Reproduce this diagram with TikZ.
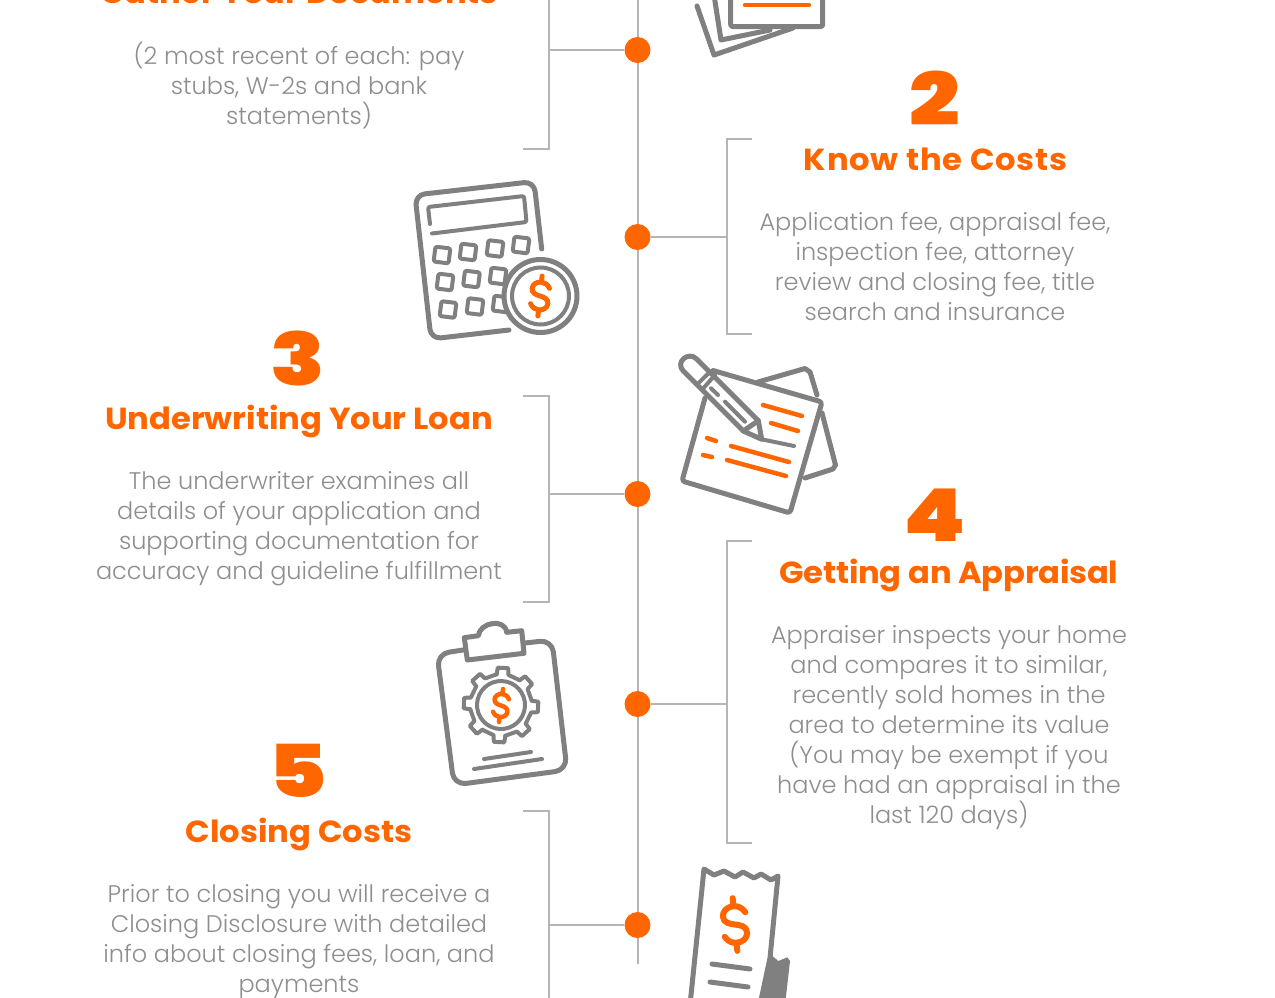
\documentclass[tikz,border=0pt]{standalone}
\usepackage{fontspec}
\setmainfont{Poppins Light}
\newfontfamily\headfont[FakeStretch=1.056]{Poppins Bold}
\newfontfamily\numfont[FakeStretch=1.22]{Poppins Black}
\definecolor{brandorange}{HTML}{FF6600}
\definecolor{iconGrey}{HTML}{808080}
\definecolor{ruleGrey}{HTML}{B5B5B5}
\definecolor{bodyGrey}{HTML}{8E8E8E}
\tikzset{
  stepdot/.style={circle,fill=brandorange,minimum size=26pt,inner sep=0pt},
  rule/.style={draw=ruleGrey,line width=2pt},
  bodytext/.style={anchor=base,align=center,text=bodyGrey,font=\fontsize{24}{30}\selectfont,inner sep=0pt},
  headtext/.style={anchor=base,text=brandorange,font=\headfont\fontsize{30.5}{36}\selectfont,inner sep=0pt},
  numtext/.style={anchor=base,text=brandorange,font=\numfont\fontsize{73}{80}\selectfont,inner sep=0pt},
  ico/.style={draw=iconGrey,line width=5pt,line cap=round,line join=round},
  icothin/.style={draw=iconGrey,line width=4pt,line cap=round,line join=round},
  icoacc/.style={draw=brandorange,line width=4.5pt,line cap=round,line join=round},
}
\newcommand\dollaricon[5]{%
  \begin{scope}[shift={(#1,#2)},rotate=#3,scale=#4]
    \draw[draw=brandorange,line width=#5pt,line cap=round,line join=round]
      (.42,-.42) .. controls (.32,-.60) and (.16,-.68) .. (0,-.68)
      .. controls (-.25,-.68) and (-.42,-.52) .. (-.42,-.33)
      .. controls (-.42,-.10) and (-.20,-.04) .. (0,0)
      .. controls (.20,.04) and (.42,.10) .. (.42,.33)
      .. controls (.42,.52) and (.25,.68) .. (0,.68)
      .. controls (-.16,.68) and (-.32,.60) .. (-.42,.42)
      (0,-.68) -- (0,-.98) (0,.68) -- (0,.98);
  \end{scope}}
\begin{document}
\begin{tikzpicture}[x=1pt,y=-1pt]
\useasboundingbox (0,0) rectangle (1275,997);
\clip (0,0) rectangle (1275,997);
\fill[white] (0,0) rectangle (1275,997);

% timeline
\coordinate (lineTop) at (637.5,-5);
\coordinate (lineEnd) at (637.5,964);
\draw[rule] (lineTop) -- (lineEnd);
\node[stepdot] (d1) at (637.5,50) {};
\node[stepdot] (d2) at (637.5,237) {};
\node[stepdot] (d3) at (637.5,494) {};
\node[stepdot] (d4) at (637.5,704) {};
\node[stepdot] (d5) at (637.5,925) {};

% brackets
\coordinate (b1) at (548.5,50);
\coordinate (b2) at (726.5,237);
\coordinate (b3) at (548.5,494);
\coordinate (b4) at (726.5,704);
\coordinate (b5) at (548.5,925);
\draw[rule] (d1) -- (b1);
\draw[rule] (d2) -- (b2);
\draw[rule] (d3) -- (b3);
\draw[rule] (d4) -- (b4);
\draw[rule] (d5) -- (b5);
\draw[rule] (548.5,-10) -- (548.5,149) -- (523,149);
\draw[rule] (752,139) -- (726.5,139) -- (726.5,334) -- (752,334);
\draw[rule] (523,396) -- (548.5,396) -- (548.5,602) -- (523,602);
\draw[rule] (752,541) -- (726.5,541) -- (726.5,843) -- (752,843);
\draw[rule] (523,811) -- (548.5,811) -- (548.5,1010);

% text
\node[headtext] (h1) at (299,3) {Gather Your Documents};
\node[bodytext] (t1) at (299,124) {(2 most recent of each: pay\\stubs, W-2s and bank\\statements)};
\node[numtext] (n2) at (935,125) {2};
\node[headtext] (h2) at (935.5,170) {\addfontfeature{LetterSpace=2.5}Know the Costs};
\node[bodytext] (t2) at (935,320) {Application fee, appraisal fee,\\inspection fee, attorney\\review and closing fee, title\\search and insurance};
\node[numtext] (n3) at (298,385) {3};
\node[headtext] (h3) at (299,429) {Underwriting Your Loan};
\node[bodytext] (t3) at (299,579) {The underwriter examines all\\details of your application and\\supporting documentation for\\accuracy and guideline fulfillment};
\node[numtext] (n4) at (935,541) {4};
\node[headtext] (h4) at (949,583) {\addfontfeature{LetterSpace=-0.8}Getting an Appraisal};
\node[bodytext] (t4) at (949,823) {Appraiser inspects your home\\and compares it to similar,\\recently sold homes in the\\area to determine its value\\(You may be exempt if you\\have had an appraisal in the\\last 120 days)};
\node[numtext] (n5) at (298,797) {5};
\node[headtext] (h5) at (299,842) {Closing Costs};
\node[bodytext] (t5) at (299,992) {Prior to closing you will receive a\\Closing Disclosure with detailed\\info about closing fees, loan, and\\payments};

% document stack icon
\draw[ico] (697,6) -- (714,55) -- (793,28);
\draw[ico] (714,-5) -- (721,40) -- (770,30);
\draw[ico,rounded corners=2pt] (730.7,-5) -- (730.7,26.5) -- (822.7,26.5) -- (822.7,-5);
\draw[icoacc] (745,5) -- (809,5);

% calculator icon
\draw[ico,rounded corners=10pt] (541.7,249) -- (534,181.5) -- (415,195) -- (431,339) -- (509,330);
\draw[icothin,rounded corners=2pt] (430,224) -- (428,207) -- (524,196) -- (526.5,222) -- (432,233.5);
\foreach \cx/\cy in {442/255,468/252,495/248.5,521/245,445/282,471.5/279,498/276,448/309.5,475/306.5,501/304}
  \draw[icothin,rounded corners=2pt,rotate around={-7:(\cx,\cy)}] (\cx-7.5,\cy-7.5) rectangle (\cx+7.5,\cy+7.5);
\draw[ico,fill=white] (540.5,296) circle (36.5);
\draw[icothin] (540.5,296) circle (28.5);
\dollaricon{540}{296}{-6}{20.5}{5}

% papers and pencil icon
\draw[ico] (758,382) -- (805,368.5) -- (810,372) -- (817,395);
\draw[ico] (822,413) -- (835.5,465) -- (833,469) -- (805,478);
\draw[ico,rounded corners=3pt] (713,370.5) -- (822,402) -- (790,513) -- (682,481) -- (705,398);
\draw[ico,fill=white] (696.7,359) -- (758.3,420.7) -- (761.7,439.3) -- (743.3,431) -- (683.3,371)
  .. controls (674.8,362.5) and (688.2,350.5) .. (696.7,359) -- cycle;
\draw[icothin] (698.3,383.3) -- (710,371.7);
\draw[icothin] (703.3,388.3) -- (715,375);
\draw[icothin] (711,388.3) -- (718,395);
\draw[icothin] (725,401.7) -- (745,421.7);
\draw[ico] (743.3,431) -- (758.3,420.7);
\draw[icothin] (761.7,439.3) -- (794,446);
\draw[icoacc] (763,405) -- (802,416);
\draw[icoacc] (771,423) -- (798,431);
\draw[icoacc] (707,438) -- (716,441);
\draw[icoacc] (731,446) -- (789,462);
\draw[icoacc] (703,455) -- (712,457);
\draw[icoacc] (727,460) -- (786,476);

% clipboard and gear icon
\draw[ico,rounded corners=12pt] (463,650) -- (437,654) -- (454,785) -- (567,770) -- (552,640) -- (525,643);
\draw[ico] (464.3,637.7) -- (478.3,635.7) .. controls (480,622) and (505,618) .. (506.7,632.3) -- (521.7,630.7) -- (524,653.3) -- (467.3,660) -- cycle;
\begin{scope}[shift={(501,705)},rotate=-3]
  \foreach \a in {0,45,...,315}
    \draw[icothin] (\a-11:31) -- (\a-8:37.5) -- (\a+8:37.5) -- (\a+11:31) -- (\a+34:31);
  \draw[icothin] (0,0) circle (24);
\end{scope}
\dollaricon{501}{705.5}{-7}{17}{4.5}
\draw[icothin] (484,759) -- (531,752);
\draw[icothin] (474,769) -- (542,759);

% receipt icon
\fill[iconGrey] (770,954) -- (773.3,956.7) -- (778.3,961) -- (787.3,957.3) -- (790,961) -- (785,1005) -- (759,1005) -- cycle;
\draw[ico,fill=white,line cap=butt] (690,1005) -- (704,869) -- (714,875) -- (724,871) -- (735,877) -- (743,872) -- (754,878) -- (761,874) -- (771,880) -- (778,876) -- (770,958) -- (760,1005);
\draw[ico] (712,964) -- (750,969);
\draw[ico] (710,982) -- (748,987);
\dollaricon{735}{924.5}{5}{27}{6}
\end{tikzpicture}
\end{document}
